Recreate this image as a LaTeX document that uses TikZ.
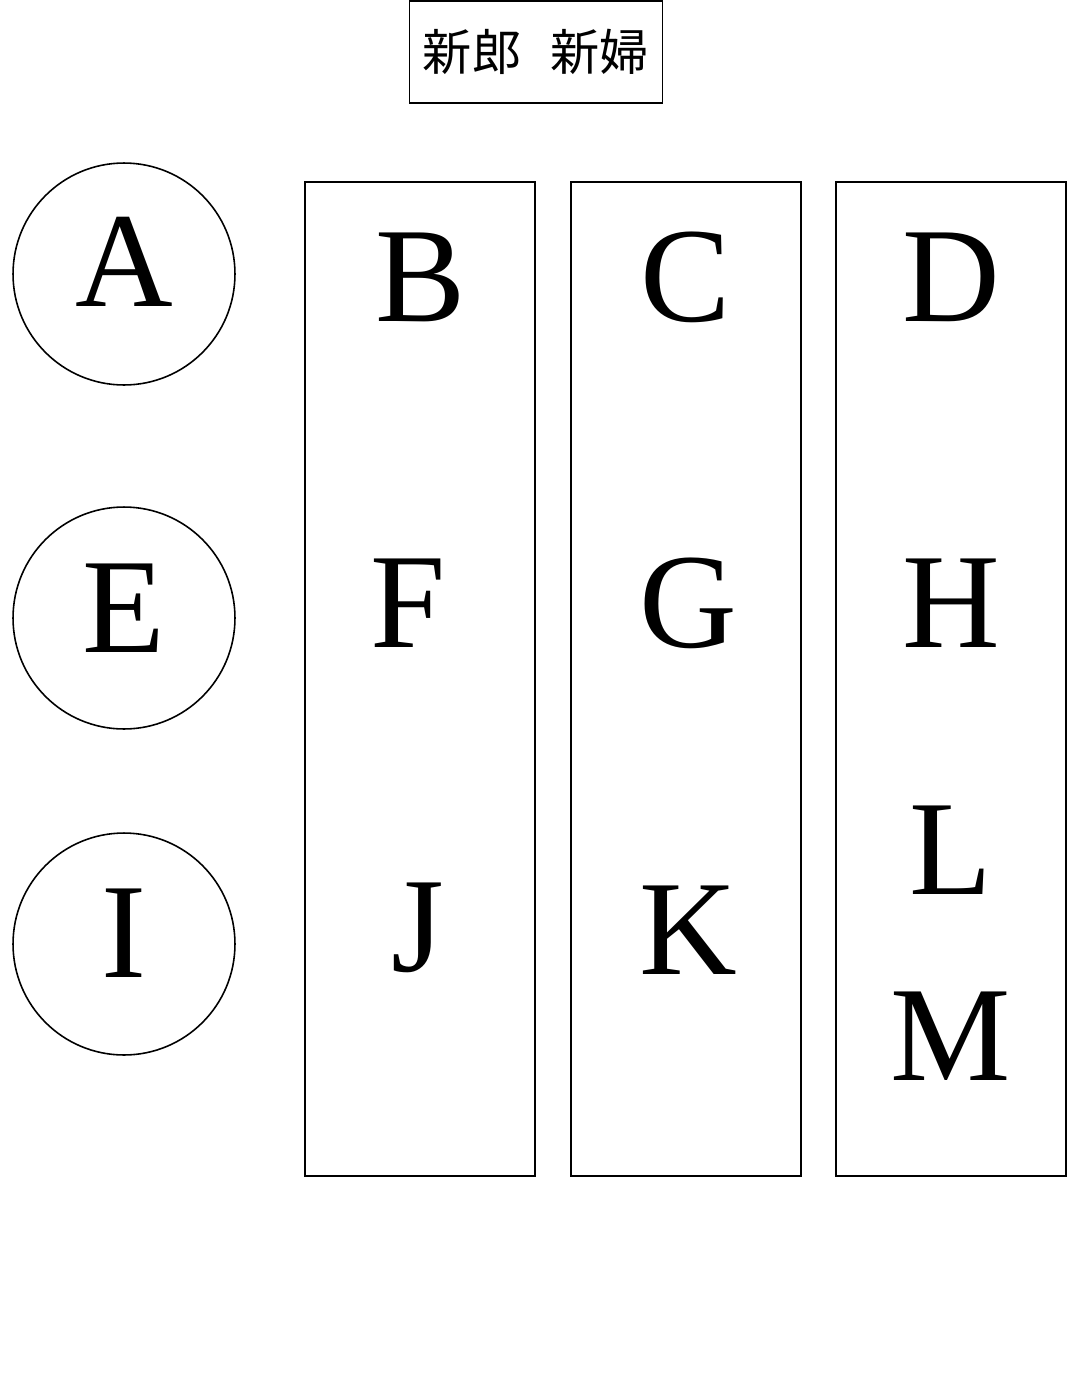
\documentclass[tikz,border=0pt]{standalone}
\usepackage{fontspec}
\setmainfont{Liberation Serif}
\newfontfamily\cjkfont{Noto Sans CJK JP}
\usepackage{tikz}
\usetikzlibrary{positioning}

\begin{document}
\begin{tikzpicture}[x=0.02cm,y=-0.02cm]

\tikzstyle{every node}=[inner sep=0pt]
\tikzstyle{roundtable}=[draw, circle, line width=0.9pt, minimum size=4.44cm]
\tikzstyle{longtable}=[draw, rectangle, line width=0.9pt, minimum width=4.6cm, minimum height=19.88cm]
\tikzstyle{guest}=[font=\fontsize{77}{80}\selectfont]

\useasboundingbox (0,0) rectangle (1080,1400);

% head table
\node [draw, line width=0.9pt, minimum width=5.06cm, minimum height=2.04cm,
  font=\cjkfont\fontsize{28}{30}\selectfont] (head) at (536,52) {新郎\hspace{0.6em}新婦};

% round tables
\foreach \n/\y in {A/274, E/618, I/944}
  \node [roundtable] (table\n) at (124,\y) {};

% long tables
\foreach \n/\x in {1/420, 2/686, 3/951}
  \node [longtable] (long\n) at (\x,679) {};

% guests
\foreach \n/\x/\y in {A/124/262, E/124/608, I/124/933,
    B/421/277, F/408/603, J/418/928,
    C/686/277, G/688/603, K/688/930,
    D/951/277, H/951/603, L/951/850, M/951/1036}
  \node [guest] (\n) at (\x,\y) {\n};

\end{tikzpicture}
\end{document}
